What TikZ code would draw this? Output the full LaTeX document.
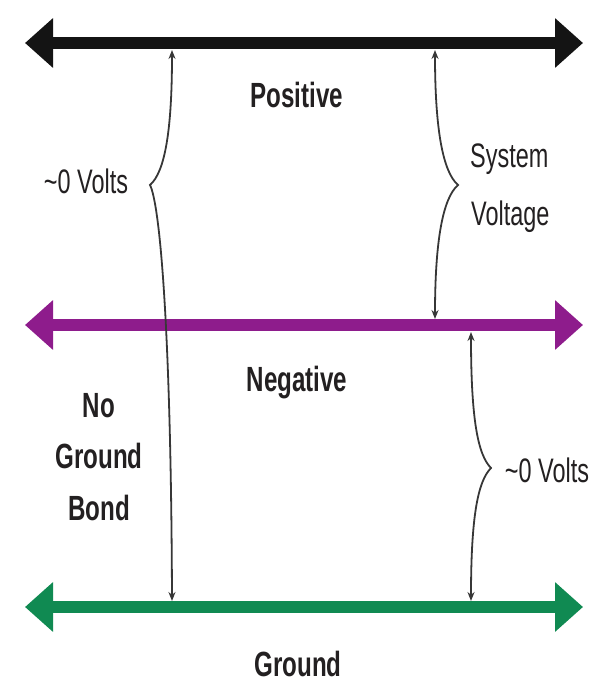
\documentclass[tikz,border=0pt]{standalone}
\usepackage{fontspec}
\newfontfamily\cond[FakeStretch=0.69]{Liberation Sans}
\usetikzlibrary{arrows.meta}
\definecolor{posc}{RGB}{20,20,20}
\definecolor{negc}{RGB}{142,28,140}
\definecolor{gndc}{RGB}{16,138,82}
\definecolor{txtc}{RGB}{35,32,33}
\definecolor{bracec}{RGB}{55,55,55}
\tikzset{
  rail/.style={line width=11.5pt, {Triangle[length=28pt,width=48pt]}-{Triangle[length=28pt,width=48pt]}},
  bracepath/.style={draw=bracec, line width=1.8pt, {Stealth[length=9pt,width=7pt]}-{Stealth[length=9pt,width=7pt]}},
  boldlbl/.style={font=\cond\bfseries\fontsize{35}{51.5}\selectfont, text=txtc, inner sep=0pt, anchor=base},
  reglbl/.style={font=\cond\fontsize{34}{58}\selectfont, text=txtc, inner sep=0pt, anchor=base},
}
\begin{document}
\begin{tikzpicture}[x=1pt,y=-1pt]
\useasboundingbox (0,0) rectangle (598,682);
% rail endpoints
\coordinate (pL) at (25,43);  \coordinate (pR) at (583,43);
\coordinate (nL) at (25,325); \coordinate (nR) at (583,325);
\coordinate (gL) at (25,607); \coordinate (gR) at (583,607);
\draw[rail, draw=posc, fill=posc] (pL) -- (pR);
\draw[rail, draw=negc, fill=negc] (nL) -- (nR);
\draw[rail, draw=gndc, fill=gndc] (gL) -- (gR);
% brace coordinates
\coordinate (b1t) at (172,50);  \coordinate (b1c) at (150,185); \coordinate (b1b) at (172,601);
\coordinate (b2t) at (435,50);  \coordinate (b2c) at (458,185); \coordinate (b2b) at (435,319);
\coordinate (b3t) at (471,332); \coordinate (b3c) at (491,468); \coordinate (b3b) at (471,601);
\draw[bracepath] (b1t) .. controls (172,130) and (165,172) .. (b1c)
                       .. controls (160,205) and (171,330) .. (b1b);
\draw[bracepath] (b2t) .. controls (435,130) and (443,172) .. (b2c)
                       .. controls (443,198) and (435,240) .. (b2b);
\draw[bracepath] (b3t) .. controls (471,420) and (478,455) .. (b3c)
                       .. controls (478,481) and (471,516) .. (b3b);
% labels
\node[boldlbl] (positive) at (297,107) {Positive};
\node[boldlbl] (negative) at (297,391) {Negative};
\node[boldlbl] (ground) at (298,676) {Ground};
\node[boldlbl, align=center, anchor=base] (nobond) at (99,520) {No\\Ground\\Bond};
\node[reglbl] (zeroL) at (86,193) {\textasciitilde0 Volts};
\node[reglbl, anchor=base west] (sys) at (470,167) {System};
\node[reglbl, anchor=base west] (volt) at (471,225) {Voltage};
\node[reglbl] (zeroR) at (547,482) {\textasciitilde0 Volts};
\end{tikzpicture}
\end{document}
